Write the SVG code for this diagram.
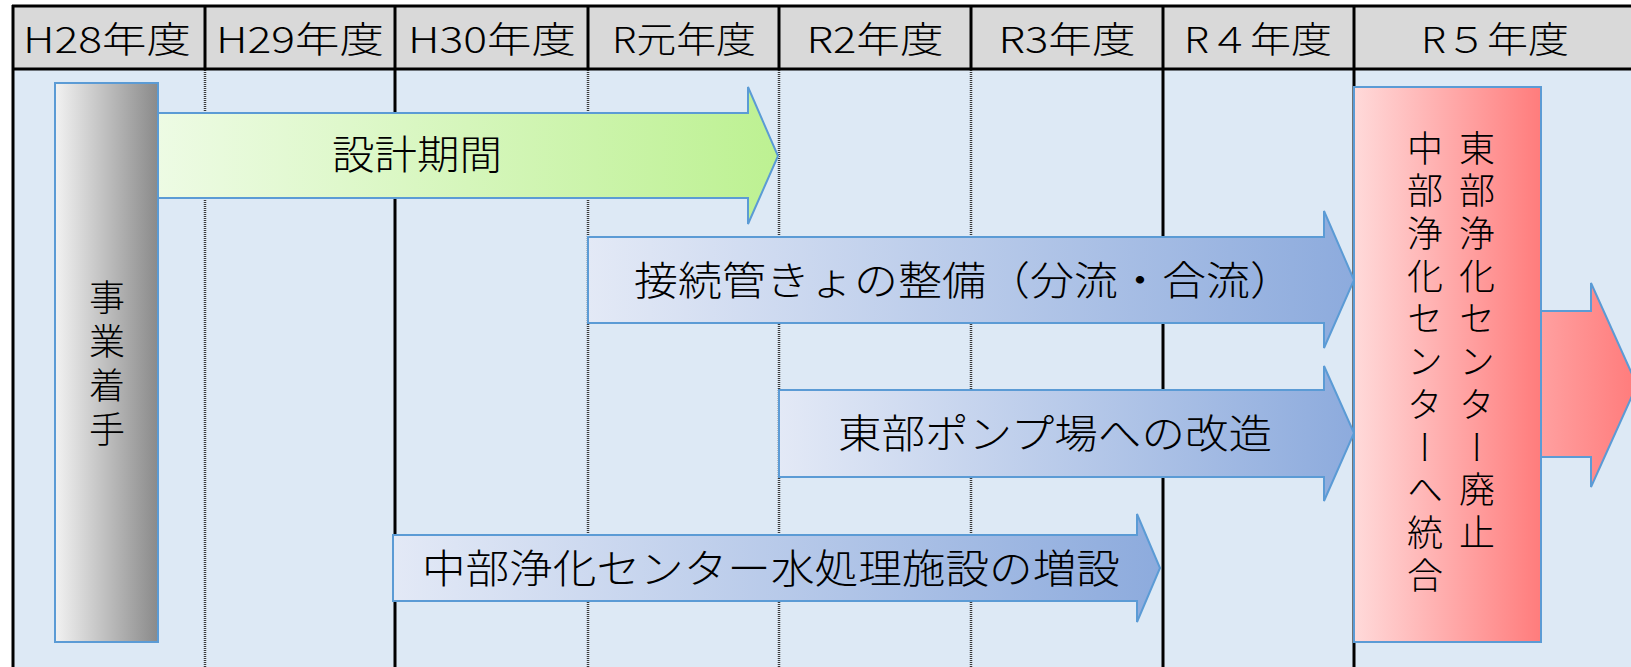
<svg xmlns="http://www.w3.org/2000/svg" width="1631" height="667" viewBox="0 0 1631 667">
  <defs>
    <linearGradient id="gGray" x1="0" y1="0" x2="1" y2="0">
      <stop offset="0" stop-color="#f2f2f2"/>
      <stop offset="1" stop-color="#8a8a8a"/>
    </linearGradient>
    <linearGradient id="gGreen" x1="0" y1="0" x2="1" y2="0">
      <stop offset="0" stop-color="#edfbe4"/>
      <stop offset="1" stop-color="#bdf192"/>
    </linearGradient>
    <linearGradient id="gBlue" x1="0" y1="0" x2="1" y2="0">
      <stop offset="0" stop-color="#e3e9f6"/>
      <stop offset="1" stop-color="#8dabdd"/>
    </linearGradient>
    <linearGradient id="gPink" x1="0" y1="0" x2="1" y2="0">
      <stop offset="0" stop-color="#ffdada"/>
      <stop offset="1" stop-color="#ff7c7c"/>
    </linearGradient>
    <linearGradient id="gPinkArrow" x1="0" y1="0" x2="1" y2="0">
      <stop offset="0" stop-color="#ffa0a0"/>
      <stop offset="1" stop-color="#ff7b7b"/>
    </linearGradient>
  </defs>
  <style>
    text { font-family: "Noto Sans CJK JP", "Noto Sans", sans-serif; font-weight: 300; fill: #000; }
    .hdr { font-size: 36px; text-anchor: middle; }
    .lbl { font-size: 40px; }
    .vt { font-size: 36px; writing-mode: vertical-rl; }
    .solid { stroke: #000; stroke-width: 3; fill: none; }
    .dot { stroke: #3a3a3a; stroke-width: 2.5; stroke-dasharray: 1 1; fill: none; }
    .shape { stroke: #5b9bd5; stroke-width: 2; }
  </style>

  <!-- table background -->
  <g id="table">
    <rect x="12" y="5" width="1619" height="65" fill="#d9d9d9"/>
    <rect x="12" y="70" width="1619" height="597" fill="#dde9f5"/>
    <!-- body dividers -->
    <line class="dot" x1="205" y1="70" x2="205" y2="667"/>
    <line class="dot" x1="588" y1="70" x2="588" y2="667"/>
    <line class="dot" x1="779" y1="70" x2="779" y2="667"/>
    <line class="dot" x1="971" y1="70" x2="971" y2="667"/>
    <line class="solid" x1="395" y1="70" x2="395" y2="667"/>
    <line class="solid" x1="1163" y1="70" x2="1163" y2="667"/>
    <line class="solid" x1="1354" y1="70" x2="1354" y2="667"/>
    <line class="solid" x1="13" y1="5" x2="13" y2="667"/>
    <!-- header lines -->
    <line class="solid" x1="12" y1="6" x2="1631" y2="6"/>
    <line class="solid" x1="12" y1="69" x2="1631" y2="69"/>
    <line class="solid" x1="205" y1="5" x2="205" y2="70"/>
    <line class="solid" x1="395" y1="5" x2="395" y2="70"/>
    <line class="solid" x1="588" y1="5" x2="588" y2="70"/>
    <line class="solid" x1="779" y1="5" x2="779" y2="70"/>
    <line class="solid" x1="971" y1="5" x2="971" y2="70"/>
    <line class="solid" x1="1163" y1="5" x2="1163" y2="70"/>
    <line class="solid" x1="1354" y1="5" x2="1354" y2="70"/>
    <!-- header labels -->
    <text class="hdr" x="107" y="53" textLength="168" lengthAdjust="spacingAndGlyphs">H28年度</text>
    <text class="hdr" x="300" y="53" textLength="168" lengthAdjust="spacingAndGlyphs">H29年度</text>
    <text class="hdr" x="492" y="53" textLength="168" lengthAdjust="spacingAndGlyphs">H30年度</text>
    <text class="hdr" x="684" y="53" textLength="144" lengthAdjust="spacingAndGlyphs">R元年度</text>
    <text class="hdr" x="875" y="53" textLength="137" lengthAdjust="spacingAndGlyphs">R2年度</text>
    <text class="hdr" x="1067" y="53" textLength="137" lengthAdjust="spacingAndGlyphs">R3年度</text>
    <text class="hdr" x="1258" y="53" textLength="148" lengthAdjust="spacingAndGlyphs">R４年度</text>
    <text class="hdr" x="1495" y="53" textLength="148" lengthAdjust="spacingAndGlyphs">R５年度</text>
  </g>

  <g id="node-start">
    <rect class="shape" x="55" y="83" width="103" height="559" fill="url(#gGray)"/>
    <text class="vt" x="107" y="279" style="letter-spacing:8px">事業着手</text>
  </g>

  <g id="node-design">
    <path class="shape" fill="url(#gGreen)" d="M158,113 L748,113 L748,87 L778,156 L748,224 L748,198 L158,198 Z"/>
    <text class="lbl" x="332" y="169" textLength="170" lengthAdjust="spacingAndGlyphs">設計期間</text>
  </g>

  <g id="node-pipes">
    <path class="shape" fill="url(#gBlue)" d="M588,237 L1324,237 L1324,211 L1354,280 L1324,348 L1324,323 L588,323 Z"/>
    <text class="lbl" x="634" y="295" textLength="660" lengthAdjust="spacingAndGlyphs">接続管きょの整備（分流・合流）</text>
  </g>

  <g id="node-pump">
    <path class="shape" fill="url(#gBlue)" d="M779,390 L1324,390 L1324,366 L1354,433 L1324,501 L1324,477 L779,477 Z"/>
    <text class="lbl" x="838" y="448" textLength="434" lengthAdjust="spacingAndGlyphs">東部ポンプ場への改造</text>
  </g>

  <g id="node-expansion">
    <path class="shape" fill="url(#gBlue)" d="M393,535 L1137,535 L1137,514 L1160,568 L1137,622 L1137,601 L393,601 Z"/>
    <text class="lbl" x="422" y="583" textLength="698" lengthAdjust="spacingAndGlyphs">中部浄化センター水処理施設の増設</text>
  </g>

  <g id="node-merge">
    <rect class="shape" x="1354" y="87" width="187" height="555" fill="url(#gPink)"/>
    <text class="vt" x="1477" y="130" style="letter-spacing:6.7px">東部浄化センター廃止</text>
    <text class="vt" x="1425" y="130" style="letter-spacing:6.7px">中部浄化センターへ統合</text>
  </g>

  <g id="node-next">
    <path class="shape" fill="url(#gPinkArrow)" d="M1541,311 L1591,311 L1591,283 L1637,385 L1591,487 L1591,457 L1541,457 Z"/>
  </g>
</svg>
